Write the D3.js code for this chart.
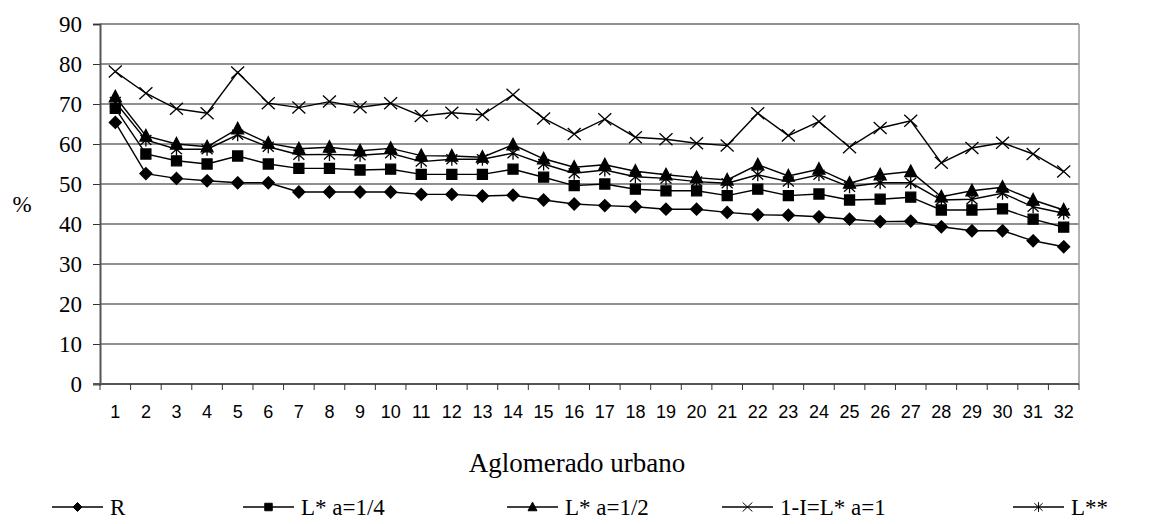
<!DOCTYPE html>
<html>
<head>
<meta charset="utf-8">
<script src="https://cdn.jsdelivr.net/npm/d3@7"></script>
<style>
  html, body { margin: 0; padding: 0; background: #fff; }
  svg { display: block; }
</style>
</head>
<body>
<div id="chart"></div>
<script>
// categorías (aglomerados urbanos 1..32)
const categories = d3.range(1, 33).map(String);
const yTicks = [0, 10, 20, 30, 40, 50, 60, 70, 80, 90];

// series
const serieR = [65.4, 52.6, 51.4, 50.8, 50.3, 50.3, 48.0, 48.0, 48.0, 48.0, 47.4, 47.4, 47.0, 47.2, 46.0, 45.0,
  44.6, 44.3, 43.7, 43.7, 42.9, 42.3, 42.2, 41.8, 41.2, 40.6, 40.7, 39.3, 38.3, 38.3, 35.8, 34.3];
const serieL14 = [68.9, 57.5, 55.8, 55.0, 57.0, 55.0, 53.9, 53.9, 53.5, 53.7, 52.4, 52.4, 52.4, 53.7, 51.7, 49.6,
  50.0, 48.7, 48.3, 48.3, 47.1, 48.7, 47.1, 47.5, 46.0, 46.2, 46.7, 43.5, 43.5, 43.8, 41.2, 39.2];
const serieL12 = [71.8, 62.0, 60.0, 59.3, 63.8, 60.2, 58.8, 59.2, 58.3, 58.9, 57.1, 57.0, 56.7, 59.8, 56.3, 54.2,
  54.8, 53.2, 52.3, 51.6, 51.0, 54.8, 52.0, 53.7, 50.2, 52.3, 53.1, 46.8, 48.3, 49.2, 46.0, 43.5];
const serieL1 = [78.1, 72.7, 68.8, 67.7, 77.9, 70.2, 69.1, 70.6, 69.2, 70.2, 67.0, 67.8, 67.3, 72.3, 66.4, 62.5,
  66.2, 61.7, 61.2, 60.2, 59.6, 67.7, 62.1, 65.6, 59.2, 64.0, 65.8, 55.3, 59.0, 60.3, 57.5, 53.1];
const serieL2 = [70.5, 61.0, 58.7, 58.7, 62.3, 59.3, 57.3, 57.4, 57.2, 57.7, 55.6, 56.2, 56.2, 57.7, 55.0, 52.7,
  53.5, 51.8, 51.4, 50.6, 50.2, 52.3, 50.6, 52.3, 49.3, 50.3, 50.3, 46.0, 46.2, 47.7, 44.3, 42.7];

const seriesNames = ["R", "L* a=1/4", "L* a=1/2", "1-I=L* a=1", "L**"];
const seriesValues = [serieR, serieL14, serieL12, serieL1, serieL2];
const seriesMarkers = ["diamond", "square", "triangle", "times", "star"];

const width = 1151, height = 524;
const plot = { left: 100, right: 1079, top: 24, bottom: 384 };
const serif = "'Liberation Serif', 'Times New Roman', serif";

const svg = d3.select("#chart").append("svg")
  .attr("width", width).attr("height", height);

const x = d3.scaleBand().domain(categories).range([plot.left, plot.right]).padding(0);
const y = d3.scaleLinear().domain([0, 90]).range([plot.bottom, plot.top]);

// marcadores
function markerPath(type) {
  const p = d3.path();
  if (type === "diamond") {
    p.moveTo(0, -6); p.lineTo(6, 0); p.lineTo(0, 6); p.lineTo(-6, 0); p.closePath();
  } else if (type === "square") {
    p.rect(-5, -5, 10, 10);
  } else if (type === "triangle") {
    p.moveTo(0, -6.5); p.lineTo(6, 5); p.lineTo(-6, 5); p.closePath();
  } else if (type === "times") {
    p.moveTo(-6.5, -6); p.lineTo(6.5, 6); p.moveTo(-6.5, 6); p.lineTo(6.5, -6);
  } else if (type === "star") {
    p.moveTo(-5.5, -5); p.lineTo(5.5, 5); p.moveTo(-5.5, 5); p.lineTo(5.5, -5);
    p.moveTo(0, -6.5); p.lineTo(0, 6.5);
  }
  return p.toString();
}
const filled = t => t === "diamond" || t === "square" || t === "triangle";

// líneas de la cuadrícula
svg.append("g")
  .selectAll("line")
  .data(yTicks.filter(d => d > 0))
  .join("line")
  .attr("x1", plot.left).attr("x2", plot.right)
  .attr("y1", d => y(d)).attr("y2", d => y(d))
  .attr("stroke", "#222").attr("stroke-width", 1.2);

// borde derecho del área
svg.append("line")
  .attr("x1", plot.right).attr("x2", plot.right)
  .attr("y1", plot.top).attr("y2", plot.bottom)
  .attr("stroke", "#999").attr("stroke-width", 1.5);

// eje Y
const yAxis = svg.append("g")
  .attr("transform", `translate(${plot.left},0)`)
  .call(d3.axisLeft(y).tickValues(yTicks).tickSize(7).tickPadding(11));
yAxis.attr("font-family", serif);
yAxis.select(".domain").attr("stroke", "#555").attr("stroke-width", 2);
yAxis.selectAll(".tick line").attr("stroke", "#333");
yAxis.selectAll("text")
  .attr("font-family", serif)
  .attr("font-size", 23).attr("fill", "#000");

// eje X (marcas entre categorías)
svg.append("line")
  .attr("x1", plot.left - 7).attr("x2", plot.right)
  .attr("y1", plot.bottom).attr("y2", plot.bottom)
  .attr("stroke", "#555").attr("stroke-width", 2);
const bounds = categories.map(c => x(c)).concat([x(categories[categories.length - 1]) + x.bandwidth()]);
svg.append("g")
  .selectAll("line")
  .data(bounds)
  .join("line")
  .attr("x1", d => d).attr("x2", d => d)
  .attr("y1", plot.bottom).attr("y2", plot.bottom + 6)
  .attr("stroke", "#333");
const xAxis = svg.append("g")
  .attr("transform", `translate(0,${plot.bottom})`)
  .call(d3.axisBottom(x).tickSize(0).tickPadding(21));
xAxis.select(".domain").remove();
xAxis.selectAll("text")
  .attr("font-family", "'Liberation Sans', Arial, sans-serif")
  .attr("font-size", 18).attr("fill", "#000");

// series
const cx = c => x(c) + x.bandwidth() / 2;
const line = d3.line().x((d, i) => cx(categories[i])).y(d => y(d));

seriesValues.forEach((vals, k) => {
  const g = svg.append("g");
  g.append("path")
    .datum(vals)
    .attr("d", line)
    .attr("fill", "none").attr("stroke", "#000").attr("stroke-width", 1.4);
  g.selectAll("path.m")
    .data(vals)
    .join("path")
    .attr("class", "m")
    .attr("transform", (d, i) => `translate(${cx(categories[i])},${y(d)})`)
    .attr("d", markerPath(seriesMarkers[k]))
    .attr("fill", filled(seriesMarkers[k]) ? "#000" : "none")
    .attr("stroke", "#000").attr("stroke-width", 1.3);
});

// títulos
svg.append("text")
  .attr("x", 22).attr("y", 212)
  .attr("text-anchor", "middle")
  .attr("font-family", serif)
  .attr("font-size", 23)
  .text("%");

svg.append("text")
  .attr("x", 577).attr("y", 472)
  .attr("text-anchor", "middle")
  .attr("font-family", serif)
  .attr("font-size", 27)
  .text("Aglomerado urbano");

// leyenda
const legendX = [52, 243, 507, 722, 1013];
const legend = svg.append("g");
seriesNames.forEach((name, k) => {
  const gx = legendX[k], gy = 507;
  const item = legend.append("g").attr("transform", `translate(${gx},${gy})`);
  item.append("line").attr("x1", 0).attr("x2", 51).attr("y1", 0).attr("y2", 0)
    .attr("stroke", "#000").attr("stroke-width", 1.4);
  item.append("path")
    .attr("transform", "translate(25.5,0) scale(0.75)")
    .attr("d", markerPath(seriesMarkers[k]))
    .attr("fill", filled(seriesMarkers[k]) ? "#000" : "none")
    .attr("stroke", "#000").attr("stroke-width", 1.3);
  item.append("text")
    .attr("x", 58).attr("y", 8)
    .attr("font-family", serif)
    .attr("font-size", 23)
    .text(name);
});
</script>
</body>
</html>
